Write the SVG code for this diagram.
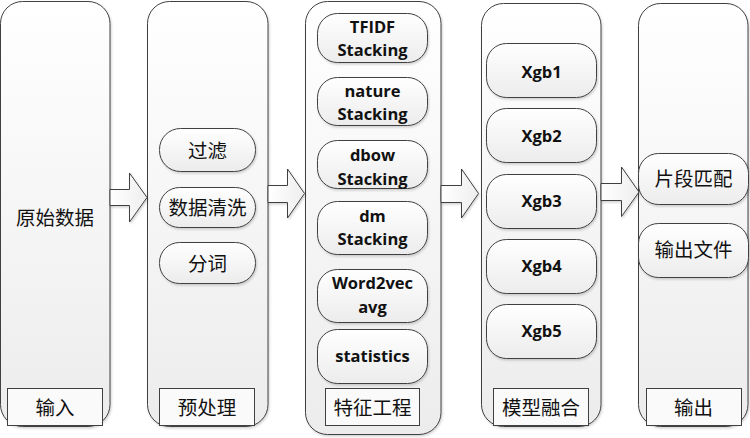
<svg xmlns="http://www.w3.org/2000/svg" width="750" height="438" viewBox="0 0 750 438">
<defs>
<linearGradient id="g" x1="0" y1="0" x2="0" y2="1">
<stop offset="0" stop-color="#ffffff"/>
<stop offset="1" stop-color="#ececec"/>
</linearGradient>
<linearGradient id="gh" x1="0" y1="0" x2="1" y2="0">
<stop offset="0" stop-color="#ffffff"/>
<stop offset="1" stop-color="#eeeeee"/>
</linearGradient>
<filter id="sh" x="-10%" y="-10%" width="130%" height="130%">
<feDropShadow dx="1" dy="1.5" stdDeviation="1" flood-color="#000" flood-opacity="0.18"/>
</filter>
</defs>
<style>
.col{fill:url(#g);stroke:#404040;stroke-width:1;filter:url(#sh)}
.nd{fill:url(#g);stroke:#404040;stroke-width:1;filter:url(#sh)}
.lb{fill:#fafafa;stroke:#404040;stroke-width:1}
.ar{fill:url(#gh);stroke:#404040;stroke-width:1;filter:url(#sh)}
.cn{font-family:"Noto Sans CJK SC",sans-serif;font-size:19.5px;fill:#111;text-anchor:middle;dominant-baseline:central}
.en{font-family:"Open Sans","Noto Sans",sans-serif;font-weight:bold;font-size:16.5px;fill:#111;text-anchor:middle;dominant-baseline:central}
</style>
<rect width="750" height="438" fill="#ffffff"/>
<g id="col1">
<rect class="col" x="0.5" y="1.5" width="109.5" height="425" rx="22"/>
<text class="cn" x="55" y="216">原始数据</text>
<rect class="lb" x="7.5" y="388.5" width="95" height="37"/>
<text class="cn" x="55" y="406">输入</text>
</g>
<g id="col2">
<rect class="col" x="147.5" y="1.5" width="120.5" height="425" rx="22"/>
<rect class="nd" x="159.5" y="128.5" width="96" height="43" rx="21"/>
<text class="cn" x="207.5" y="149">过滤</text>
<rect class="nd" x="159.5" y="187.5" width="96" height="40" rx="20"/>
<text class="cn" x="207.5" y="206">数据清洗</text>
<rect class="nd" x="159.5" y="242.5" width="96" height="41" rx="20"/>
<text class="cn" x="207.5" y="262">分词</text>
<rect class="lb" x="159.5" y="388.5" width="95" height="37"/>
<text class="cn" x="207" y="406">预处理</text>
</g>
<g id="col3">
<rect class="col" x="305.5" y="1.5" width="135.5" height="433" rx="22"/>
<rect class="nd" x="317.5" y="13.5" width="110" height="49" rx="20"/>
<text class="en" x="372.5" y="26">TFIDF</text>
<text class="en" x="372.5" y="49">Stacking</text>
<rect class="nd" x="317.5" y="77.5" width="110" height="48" rx="20"/>
<text class="en" x="372.5" y="90">nature</text>
<text class="en" x="372.5" y="113">Stacking</text>
<rect class="nd" x="317.5" y="140.5" width="110" height="48" rx="20"/>
<text class="en" x="372.5" y="154">dbow</text>
<text class="en" x="372.5" y="178">Stacking</text>
<rect class="nd" x="317.5" y="201.5" width="110" height="53" rx="20"/>
<text class="en" x="372.5" y="215">dm</text>
<text class="en" x="372.5" y="238">Stacking</text>
<rect class="nd" x="317.5" y="269.5" width="110" height="53" rx="20"/>
<text class="en" x="372.5" y="282">Word2vec</text>
<text class="en" x="372.5" y="306">avg</text>
<rect class="nd" x="317.5" y="329.5" width="110" height="54" rx="20"/>
<text class="en" x="372.5" y="355">statistics</text>
<rect class="lb" x="325.5" y="388.5" width="94" height="37"/>
<text class="cn" x="372.5" y="406">特征工程</text>
</g>
<g id="col4">
<rect class="col" x="481.5" y="3.5" width="119.5" height="423" rx="22"/>
<rect class="nd" x="486.5" y="43.5" width="110" height="54" rx="20"/>
<text class="en" x="541.5" y="71">Xgb1</text>
<rect class="nd" x="486.5" y="108.5" width="110" height="54" rx="20"/>
<text class="en" x="541.5" y="135">Xgb2</text>
<rect class="nd" x="486.5" y="174.5" width="110" height="54" rx="20"/>
<text class="en" x="541.5" y="200">Xgb3</text>
<rect class="nd" x="486.5" y="239.5" width="110" height="54" rx="20"/>
<text class="en" x="541.5" y="265">Xgb4</text>
<rect class="nd" x="486.5" y="304.5" width="110" height="54" rx="20"/>
<text class="en" x="541.5" y="330">Xgb5</text>
<rect class="lb" x="493.5" y="388.5" width="95" height="37"/>
<text class="cn" x="541" y="406">模型融合</text>
</g>
<g id="col5">
<rect class="col" x="638.5" y="3.5" width="109.5" height="423" rx="22"/>
<rect class="nd" x="638.5" y="153.5" width="110" height="51" rx="20"/>
<text class="cn" x="693.5" y="177">片段匹配</text>
<rect class="nd" x="638.5" y="223.5" width="110" height="54" rx="20"/>
<text class="cn" x="693.5" y="248">输出文件</text>
<rect class="lb" x="646.5" y="388.5" width="95" height="37"/>
<text class="cn" x="693.5" y="406">输出</text>
</g>
<g id="connectors">
<polygon class="ar" points="110,189.5 129.5,189.5 129.5,173 147,197.5 129.5,222 129.5,205.5 110,205.5"/>
<polygon class="ar" points="268,185.5 287.5,185.5 287.5,169 304.5,193.5 287.5,218 287.5,202.5 268,202.5"/>
<polygon class="ar" points="441,185.5 461.5,185.5 461.5,169 478.5,193.5 461.5,218 461.5,202.5 441,202.5"/>
<polygon class="ar" points="601,183.5 621.5,183.5 621.5,167 639,192 621.5,216.5 621.5,200.5 601,200.5"/>
</g>
</svg>
